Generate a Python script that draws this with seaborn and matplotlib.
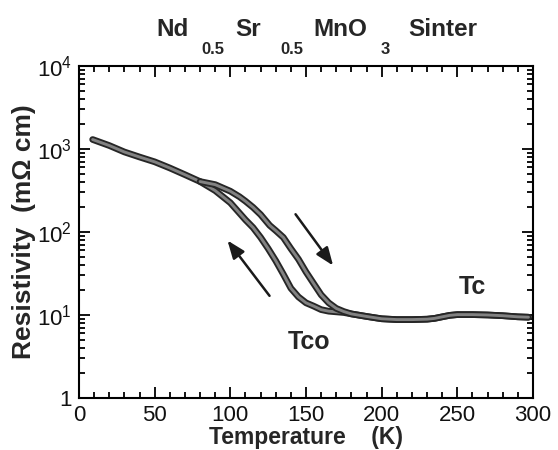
import pandas as pd
import seaborn as sns
import matplotlib.pyplot as plt
import matplotlib.patheffects as pe
from matplotlib.ticker import MultipleLocator, LogLocator, NullFormatter

# low temperature part, shared by both sweeps
t_common = [9, 20, 30, 40, 50, 60, 70, 80]
r_common = [1300, 1100, 920, 800, 700, 590, 490, 405]

# cooling sweep (lower branch)
t_cool = [80, 90, 100, 110, 115, 120, 125, 130, 135, 140, 145, 150, 155, 160, 165, 170, 175]
r_cool = [405, 315, 225, 140, 113, 86, 63, 45, 31, 21, 16.5, 14, 12.8, 11.6, 11.1, 10.9, 10.7]

# warming sweep (upper branch)
t_warm = [80, 90, 100, 106, 110, 115, 120, 126, 130, 135, 140, 145, 150, 155, 160, 165, 170, 175]
r_warm = [405, 372, 310, 266, 235, 198, 162, 120, 104, 86, 63, 47, 33, 24, 17.5, 14, 12, 11]

# high temperature, both sweeps overlap
t_high = [175, 180, 190, 200, 210, 220, 230, 235, 240, 245, 250, 260, 270, 280, 290, 297]
r_high = [10.8, 10.3, 9.6, 9.0, 8.8, 8.8, 8.9, 9.1, 9.5, 9.9, 10.1, 10.1, 10.0, 9.8, 9.5, 9.4]

x_ticks = [0, 50, 100, 150, 200, 250, 300]
y_ticks = [1, 10, 100, 1000, 10000]
y_labels = ['1', '10$^{1}$', '10$^{2}$', '10$^{3}$', '10$^{4}$']

cooling = pd.DataFrame({'T': t_common + t_cool[1:] + t_high[1:],
                        'R': r_common + r_cool[1:] + r_high[1:]})
warming = pd.DataFrame({'T': t_warm + t_high[1:], 'R': r_warm + r_high[1:]})

sns.set_theme(style='ticks')
plt.rcParams['font.family'] = ['Liberation Sans', 'DejaVu Sans']
plt.rcParams['mathtext.fontset'] = 'custom'
plt.rcParams['mathtext.rm'] = 'Liberation Sans'
plt.rcParams['mathtext.it'] = 'Liberation Sans:italic'
plt.rcParams['mathtext.bf'] = 'Liberation Sans:bold'

fig = plt.figure(figsize=(5.58, 4.5), dpi=100)
ax = fig.add_axes([0.1416, 0.1156, 0.8136, 0.7378])

trace = dict(color='#828282', lw=2.1, sort=False,
             path_effects=[pe.Stroke(linewidth=4.8, foreground='#262626'), pe.Normal()])
sns.lineplot(data=cooling, x='T', y='R', ax=ax, **trace)
sns.lineplot(data=warming, x='T', y='R', ax=ax, **trace)

ax.set_yscale('log')
ax.set_xlim(0, 300)
ax.set_ylim(1, 1e4)

ax.set_xticks(x_ticks)
ax.set_xticklabels([str(t) for t in x_ticks])
ax.xaxis.set_minor_locator(MultipleLocator(10))
ax.set_yticks(y_ticks)
ax.set_yticklabels(y_labels)
ax.yaxis.set_minor_locator(LogLocator(base=10, subs=range(2, 10)))
ax.yaxis.set_minor_formatter(NullFormatter())

ax.tick_params(which='both', direction='in', top=True, right=True,
               color='black', width=1.3, labelsize=16, labelcolor='#111111')
ax.tick_params(which='major', length=8, pad=5)
ax.tick_params(which='minor', length=4)
for s in ax.spines.values():
    s.set_linewidth(1.5)
    s.set_color('black')

ax.set_xlabel('Temperature    (K)', fontsize=16.5, fontweight='bold', labelpad=0)
ax.set_ylabel('Resistivity  (m\u03a9 cm)', fontsize=19, fontweight='bold', labelpad=1)

# sweep direction arrows
arrow = dict(arrowstyle='-|>,head_length=0.9,head_width=0.35', color='#1a1a1a', lw=1.8)
ax.annotate('', xy=(169, 37), xytext=(142, 174), arrowprops=arrow)
ax.annotate('', xy=(97, 84), xytext=(127, 16), arrowprops=arrow)

ax.text(152, 4.7, 'Tco', fontsize=18, fontweight='bold', ha='center', va='center')
ax.text(260, 22, 'Tc', fontsize=18, fontweight='bold', ha='center', va='center')

# compound name above the frame
big = dict(fontsize=17.5, fontweight='bold', ha='center', va='center')
small = dict(fontsize=12, fontweight='bold', ha='center', va='center')
fig.text(173 / 558, 1 - 30 / 450, 'Nd', **big)
fig.text(213 / 558, 1 - 49 / 450, '0.5', **small)
fig.text(248 / 558, 1 - 30 / 450, 'Sr', **big)
fig.text(292 / 558, 1 - 49 / 450, '0.5', **small)
fig.text(340 / 558, 1 - 30 / 450, 'MnO', **big)
fig.text(385 / 558, 1 - 49 / 450, '3', **small)
fig.text(443 / 558, 1 - 30 / 450, 'Sinter', **big)

fig.savefig('out.png', dpi=100)
